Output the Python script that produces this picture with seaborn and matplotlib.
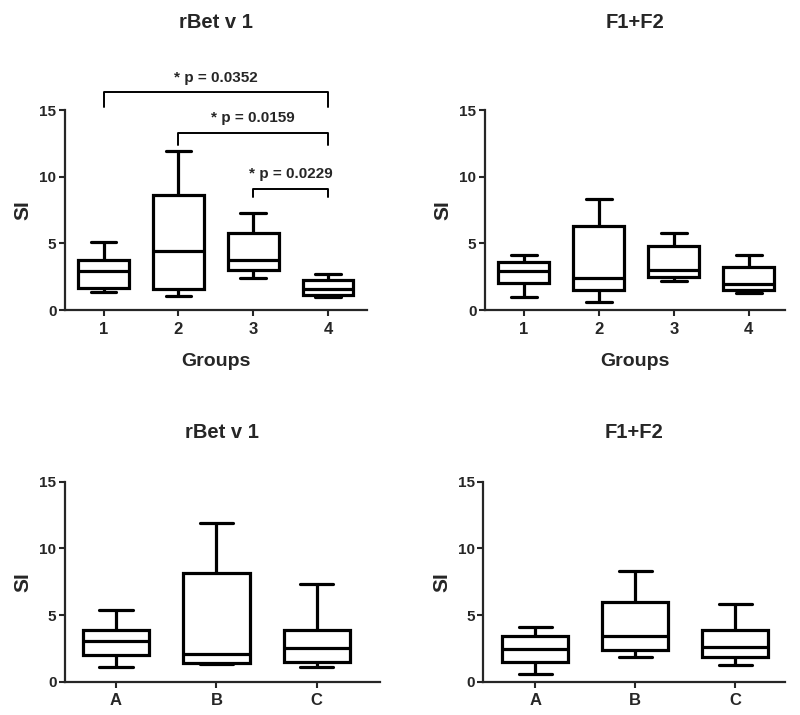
import pandas as pd
import matplotlib
matplotlib.use("Agg")
import matplotlib.pyplot as plt
import seaborn as sns

# five-number summaries: min, Q1, median, Q3, max
groups_num = ["1", "2", "3", "4"]
groups_abc = ["A", "B", "C"]

rbet_groups = [
    [1.38, 1.68, 2.93, 3.75, 5.08],
    [1.08, 1.55, 4.40, 8.60, 11.90],
    [2.38, 3.00, 3.75, 5.80, 7.25],
    [1.00, 1.12, 1.55, 2.25, 2.70],
]
f1f2_groups = [
    [1.00, 2.00, 2.93, 3.58, 4.10],
    [0.60, 1.48, 2.43, 6.30, 8.30],
    [2.18, 2.50, 3.00, 4.80, 5.80],
    [1.25, 1.50, 1.95, 3.20, 4.10],
]
rbet_abc = [
    [1.13, 1.98, 3.05, 3.88, 5.38],
    [1.33, 1.43, 2.08, 8.13, 11.88],
    [1.13, 1.48, 2.53, 3.88, 7.30],
]
f1f2_abc = [
    [0.58, 1.48, 2.43, 3.43, 4.08],
    [1.88, 2.38, 3.43, 5.95, 8.28],
    [1.25, 1.85, 2.58, 3.88, 5.80],
]

# significance brackets on the top-left panel: (from, to, label)
comparisons = [(0, 3, "* p = 0.0352"), (1, 3, "* p = 0.0159"), (2, 3, "* p = 0.0229")]
bracket_top = [16.35, 13.3, 9.1]
bracket_drop = [1.15, 0.9, 0.6]

sns.set_style("ticks")
plt.rcParams["font.family"] = ["Liberation Sans", "DejaVu Sans"]
plt.rcParams["font.weight"] = "bold"


def to_long(cats, stats):
    rows = []
    for c, s in zip(cats, stats):
        for v in s:
            rows.append({"group": c, "SI": v})
    return pd.DataFrame(rows)


def draw_panel(rect, cats, stats, title, title_y, width, xlim, xlabel=None):
    ax = fig.add_axes(rect)
    df = to_long(cats, stats)
    sns.boxplot(data=df, x="group", y="SI", order=cats, whis=(0, 100),
                width=width, color="white", linecolor="black", linewidth=2.3,
                showfliers=False, ax=ax)
    ax.set_ylim(0, 15)
    ax.set_yticks([0, 5, 10, 15])
    ax.set_xlim(*xlim)
    sns.despine(ax=ax)
    for s in ["left", "bottom"]:
        ax.spines[s].set_linewidth(1.6)
    ax.tick_params(axis="both", length=4.5, width=1.5, labelsize=11, pad=1.5)
    ax.tick_params(axis="x", pad=4, labelsize=12)
    for lab in ax.get_xticklabels() + ax.get_yticklabels():
        lab.set_fontweight("bold")
    ax.set_ylabel("SI", fontsize=15, fontweight="bold", labelpad=5)
    if xlabel:
        ax.set_xlabel(xlabel, fontsize=14, fontweight="bold", labelpad=12)
    else:
        ax.set_xlabel("")
    x0, _, w, _ = rect
    fig.text(x0 + w / 2, title_y, title, ha="center", va="center",
             fontsize=14.5, fontweight="bold")
    return ax


fig = plt.figure(figsize=(8, 7.15), dpi=100)

ax1 = draw_panel([0.081, 0.5664, 0.3775, 0.2797], groups_num, rbet_groups,
                 "rBet v 1", 1 - 23 / 715, 0.68, (-0.52, 3.52), "Groups")
draw_panel([0.606, 0.5664, 0.375, 0.2797], groups_num, f1f2_groups,
           "F1+F2", 1 - 23 / 715, 0.68, (-0.52, 3.48), "Groups")
draw_panel([0.081, 0.0466, 0.394, 0.2797], groups_abc, rbet_abc,
           "rBet v 1", 1 - 432 / 715, 0.66, (-0.51, 2.63))
draw_panel([0.604, 0.0466, 0.3775, 0.2797], groups_abc, f1f2_abc,
           "F1+F2", 1 - 432 / 715, 0.66, (-0.52, 2.5))

for (a, b, label), top, drop in zip(comparisons, bracket_top, bracket_drop):
    ax1.plot([a, a, b, b], [top - drop, top, top, top - drop], color="black",
             lw=1.4, clip_on=False)
    ax1.text((a + b) / 2, top + 0.55, label, ha="center", va="bottom",
             fontsize=11, fontweight="bold")

fig.savefig("out.png", dpi=100)
plt.close(fig)
